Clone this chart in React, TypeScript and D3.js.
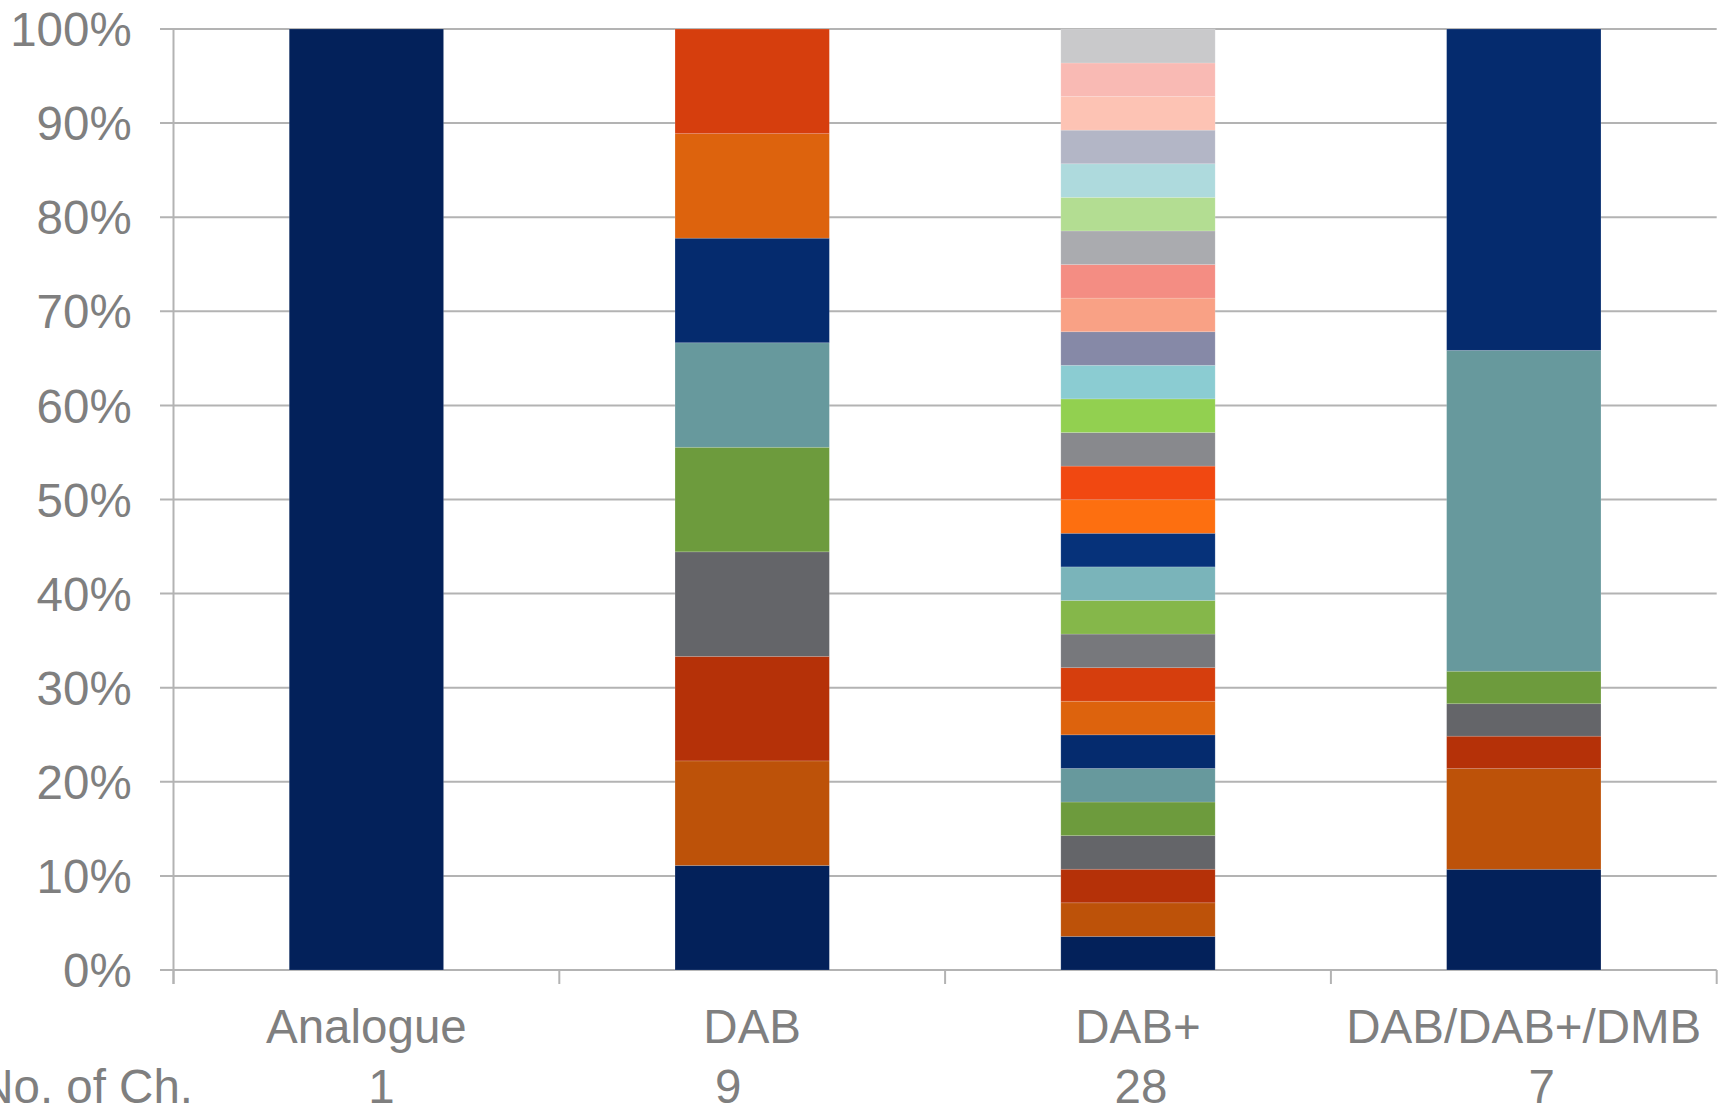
import React from "react";
import * as d3 from "d3";

// ---------- data ----------
const categories = ["Analogue", "DAB", "DAB+", "DAB/DAB+/DMB"];
const channelCounts = ["1", "9", "28", "7"];

const analogueShares = [100];
const dabShares = [11.11, 11.11, 11.11, 11.11, 11.11, 11.11, 11.11, 11.11, 11.12];
const dabPlusShares = [
  3.57, 3.57, 3.57, 3.57, 3.57, 3.57, 3.57, 3.57, 3.57, 3.57,
  3.57, 3.57, 3.57, 3.57, 3.57, 3.57, 3.57, 3.57, 3.57, 3.57,
  3.57, 3.57, 3.57, 3.57, 3.57, 3.57, 3.57, 3.61,
];
const dmbShares = [10.7, 10.7, 3.45, 3.45, 3.45, 34.1, 34.15];

const seriesByCategory = [analogueShares, dabShares, dabPlusShares, dmbShares];

const segmentColors = [
  "#03215A", "#BD5209", "#B53108", "#646569", "#6D9B3D", "#67999D", "#052B6E",
  "#DD630D", "#D63E0D", "#77787C", "#85B74A", "#7AB4BA", "#06327A", "#FD6F10",
  "#F14811", "#88898D", "#92D050", "#8BCCD2", "#8689A7", "#F9A185", "#F48D83",
  "#AAABAF", "#B3DD92", "#AEDADD", "#B3B6C6", "#FDC3B4", "#F9BAB4", "#C9C9CB",
];

const yTicks = [0, 10, 20, 30, 40, 50, 60, 70, 80, 90, 100];
const rowLabel = "No. of Ch.";

// ---------- layout ----------
const W = 1721;
const H = 1108;
const plotLeft = 173.5;
const plotRight = 1716.7;
const plotTop = 29;
const plotBottom = 970;
const barFrac = 0.4;
const fontSize = 47.5;
const textColor = "#7F7F7F";
const gridColor = "#B3B3B3";
const fontFamily = "'Liberation Sans', Arial, Helvetica, sans-serif";
const countDx = [15, -24, 3, 18];

export default function App() {
  const x = d3.scaleBand<string>().domain(categories).range([plotLeft, plotRight]).padding(0);
  const y = d3.scaleLinear().domain([0, 100]).range([plotBottom, plotTop]);
  const bw = x.bandwidth() * barFrac;

  const bars = categories.map((cat, ci) => {
    const vals = seriesByCategory[ci];
    const total = d3.sum(vals);
    const ends = d3.cumsum(vals.map((v) => (v / total) * 100));
    const cx = (x(cat) as number) + x.bandwidth() / 2;
    return vals.map((_, i) => {
      const y0 = i === 0 ? 0 : ends[i - 1];
      const y1 = ends[i];
      return (
        <rect
          key={cat + i}
          x={cx - bw / 2}
          y={y(y1)}
          width={bw}
          height={y(y0) - y(y1)}
          fill={segmentColors[i % segmentColors.length]}
          stroke="rgba(255,255,255,0.18)"
          strokeWidth={0.8}
        />
      );
    });
  });

  const tickEdges = [...categories.map((c) => x(c) as number), plotRight];

  return (
    <svg
      width={W}
      height={H}
      style={{ position: "absolute", left: 0, top: 0, background: "#fff" }}
      fontFamily={fontFamily}
    >
      {/* gridlines */}
      {yTicks.map((t) => (
        <line
          key={"g" + t}
          x1={plotLeft - 13.5}
          x2={plotRight}
          y1={y(t)}
          y2={y(t)}
          stroke={gridColor}
          strokeWidth={2}
        />
      ))}
      {/* y axis line */}
      <line x1={plotLeft} x2={plotLeft} y1={plotTop} y2={plotBottom + 14} stroke={gridColor} strokeWidth={2} />
      {/* category ticks */}
      {tickEdges.map((tx, i) => (
        <line key={"t" + i} x1={tx} x2={tx} y1={plotBottom} y2={plotBottom + 14} stroke={gridColor} strokeWidth={2} />
      ))}
      {/* bars */}
      {bars}
      {/* y labels */}
      {yTicks.map((t) => (
        <text
          key={"yl" + t}
          x={131.7}
          y={y(t) + fontSize * 0.36}
          textAnchor="end"
          fontSize={fontSize}
          fill={textColor}
        >
          {t + "%"}
        </text>
      ))}
      {/* category labels */}
      {categories.map((c, i) => (
        <text
          key={"cl" + c}
          x={(x(c) as number) + x.bandwidth() / 2}
          y={1043}
          textAnchor="middle"
          fontSize={fontSize}
          fill={textColor}
        >
          {c}
        </text>
      ))}
      <text x={193} y={1103} textAnchor="end" fontSize={fontSize} fill={textColor}>
        {rowLabel}
      </text>
      {categories.map((c, i) => (
        <text
          key={"cn" + c}
          x={(x(c) as number) + x.bandwidth() / 2 + countDx[i]}
          y={1103}
          textAnchor="middle"
          fontSize={fontSize}
          fill={textColor}
        >
          {channelCounts[i]}
        </text>
      ))}
    </svg>
  );
}
